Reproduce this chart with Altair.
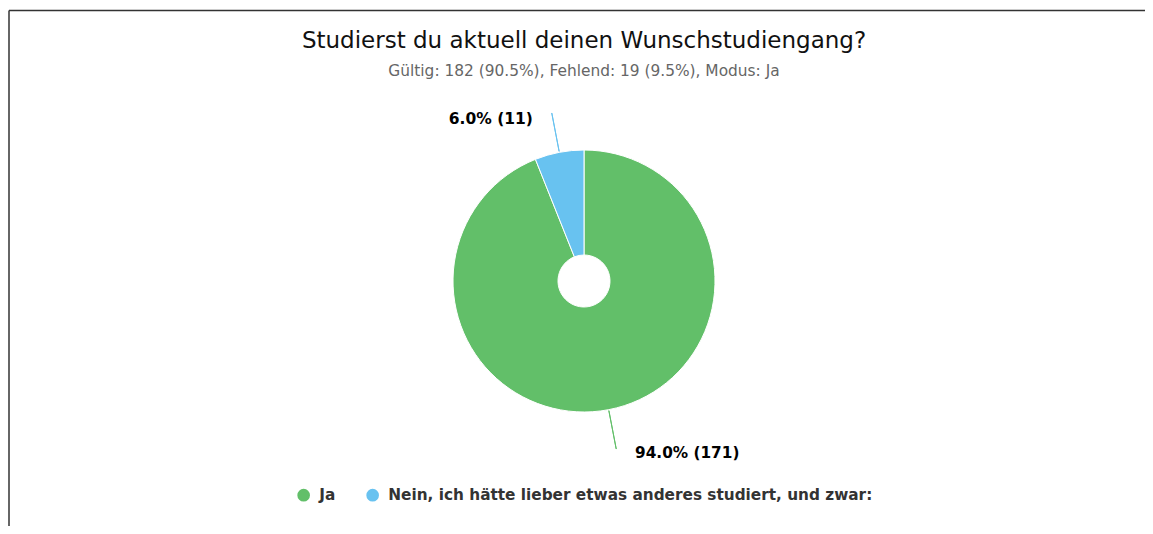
import altair as alt
import pandas as pd

categories = ["Ja", "Nein, ich hätte lieber etwas anderes studiert, und zwar:"]
counts = [171, 11]
labels = ["94.0% (171)", "6.0% (11)"]
sides = ["right", "left"]
colors = ["#62bf69", "#68c2f0"]

title_text = "Studierst du aktuell deinen Wunschstudiengang?"
subtitle_text = "Gültig: 182 (90.5%), Fehlend: 19 (9.5%), Modus: Ja"

total = sum(counts)
df = pd.DataFrame({
    "category": categories,
    "count": counts,
    "label": labels,
    "side": sides,
    "order": list(range(len(categories))),
})

FONT = "DejaVu Sans"
W, H = 1136, 515.5
CX, CY = 575, 270.5

color_scale = alt.Scale(domain=categories, range=colors)
theta_scale = alt.Scale(domain=[0, total])

base = alt.Chart(df).transform_window(
    cum="sum(count)", sort=[alt.SortField("order")]
).transform_calculate(
    mid="datum.cum - datum.count / 2",
    mid2="datum.cum - datum.count / 2 + 0.02",
)

frame_df = pd.DataFrame({"f": [0]})
frame_top = alt.Chart(frame_df).mark_rule(
    stroke="#333333", strokeWidth=1.5
).encode(x=alt.value(0), x2=alt.value(W + 20), y=alt.value(0))
frame_left = alt.Chart(frame_df).mark_rule(
    stroke="#333333", strokeWidth=1.5
).encode(x=alt.value(0), y=alt.value(0), y2=alt.value(H + 20))

arcs = alt.Chart(df).mark_arc(
    x=CX, y=CY, outerRadius=131, innerRadius=26, stroke="white", strokeWidth=1
).encode(
    theta=alt.Theta("count:Q", stack=True, scale=theta_scale),
    color=alt.Color(
        "category:N",
        scale=color_scale,
        sort=categories,
        legend=alt.Legend(
            title=None,
            orient="none",
            direction="horizontal",
            legendX=287,
            legendY=477,
            symbolType="circle",
            symbolSize=160,
            symbolStrokeWidth=0,
            labelFont=FONT,
            labelFontSize=15.3,
            labelFontWeight="bold",
            labelColor="#333333",
            labelOffset=8,
            labelLimit=0,
            columnPadding=29,
        ),
    ),
    order=alt.Order("order:Q"),
)

connectors = base.mark_arc(
    x=CX, y=CY, outerRadius=171, innerRadius=132, strokeWidth=1
).encode(
    theta=alt.Theta("mid:Q", scale=theta_scale, stack=None),
    theta2="mid2:Q",
    color=alt.Color("category:N", scale=color_scale, legend=None),
    stroke=alt.Color("category:N", scale=color_scale, legend=None),
)

label_left = base.transform_filter("datum.side == 'left'").mark_text(
    x=CX, y=CY, radius=170, align="right", baseline="middle", dx=-19, dy=5,
    font=FONT, fontSize=15.5, fontWeight="bold", color="#000000",
).encode(
    theta=alt.Theta("mid:Q", scale=theta_scale, stack=None),
    text="label:N",
)

label_right = base.transform_filter("datum.side == 'right'").mark_text(
    x=CX, y=CY, radius=170, align="left", baseline="middle", dx=19, dy=5,
    font=FONT, fontSize=15.3, fontWeight="bold", color="#000000",
).encode(
    theta=alt.Theta("mid:Q", scale=theta_scale, stack=None),
    text="label:N",
)

chart = alt.layer(frame_top, frame_left, arcs, connectors, label_left, label_right).properties(
    width=W,
    height=H,
    padding={"left": 1, "top": 2.5, "right": 0, "bottom": 0},
    autosize=alt.AutoSizeParams(type="none"),
    title=alt.TitleParams(
        text=title_text,
        subtitle=subtitle_text,
        anchor="middle",
        frame="group",
        offset=-70,
        dx=7,
        font=FONT,
        fontSize=23,
        fontWeight="normal",
        color="#111111",
        subtitleFont=FONT,
        subtitleFontSize=15.4,
        subtitleColor="#666666",
        subtitlePadding=11,
    ),
).configure_view(
    stroke=None
)

chart.save("out.html", embed_options={"renderer": "svg", "actions": False})
